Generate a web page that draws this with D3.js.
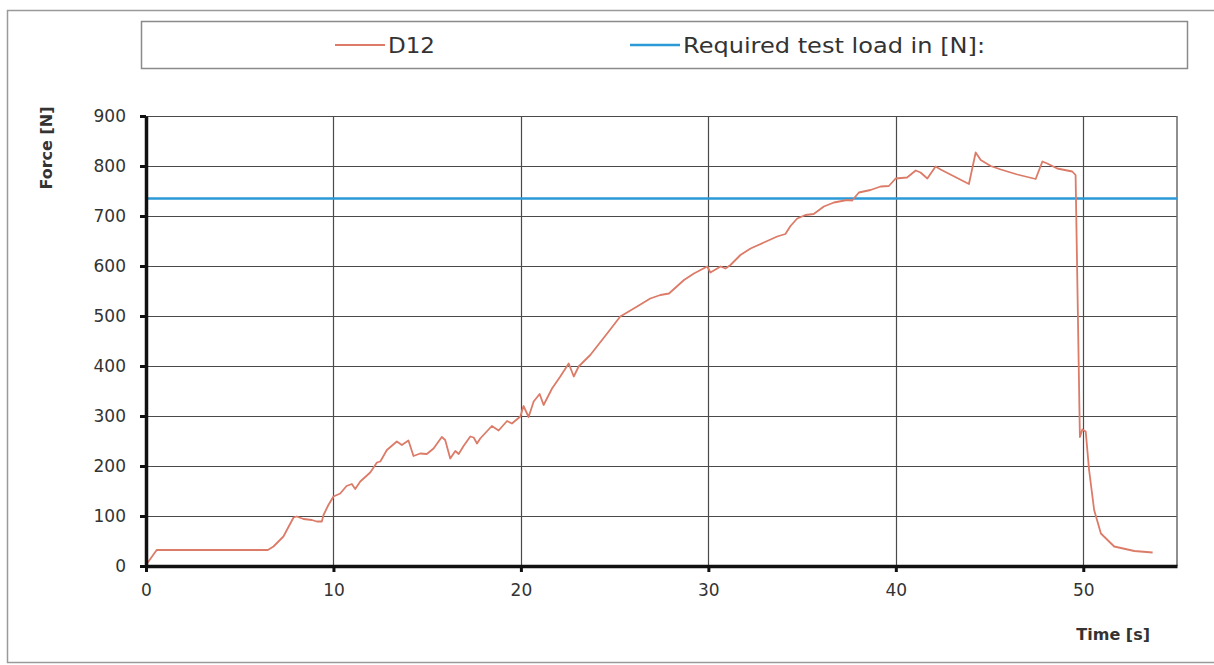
<!DOCTYPE html>
<html>
<head>
<meta charset="utf-8">
<script src="https://cdn.jsdelivr.net/npm/d3@7"></script>
<style>
  html, body { margin: 0; padding: 0; background: #fff; }
  svg { display: block; }
  text { font-family: "DejaVu Sans", Verdana, sans-serif; fill: #333; }
</style>
</head>
<body>
<svg id="chart" width="1214" height="665"></svg>
<script>
// ---- data ----
const seriesNames = ["D12", "Required test load in [N]:"];
const time = [0, 0.57, 6.5, 6.8, 7.33, 7.87, 8.04, 8.4, 8.85, 9.11, 9.38, 9.47, 9.73, 10.0, 10.36, 10.7, 10.98, 11.16, 11.43, 11.96, 12.32, 12.5, 12.85, 13.38, 13.65, 14.0, 14.27, 14.63, 14.98, 15.34, 15.78, 15.96, 16.23, 16.5, 16.68, 16.94, 17.3, 17.48, 17.66, 17.83, 18.45, 18.81, 19.26, 19.52, 19.97, 20.14, 20.41, 20.68, 21.0, 21.21, 21.66, 22.1, 22.55, 22.82, 23.08, 23.7, 24.6, 25.3, 26.2, 26.9, 27.44, 27.9, 28.7, 29.23, 29.94, 30.11, 30.65, 30.91, 31.18, 31.71, 32.25, 32.96, 33.67, 34.11, 34.38, 34.74, 35.18, 35.62, 36.16, 36.7, 37.4, 37.67, 38.03, 38.65, 39.19, 39.63, 39.99, 40.6, 41.06, 41.32, 41.68, 42.12, 42.39, 43.9, 44.26, 44.53, 45.06, 45.6, 46.48, 47.46, 47.82, 48.08, 48.61, 49.41, 49.59, 49.82, 49.95, 50.13, 50.31, 50.58, 50.94, 51.65, 52.72, 53.7];
const force = [2, 32, 32, 39, 59, 97, 99, 94, 92, 89, 89, 102, 122, 139, 145, 160, 164, 154, 169, 187, 207, 209, 232, 249, 242, 251, 220, 225, 224, 235, 258, 252, 215, 230, 224, 240, 259, 257, 245, 255, 280, 271, 290, 285, 299, 320, 298, 329, 344, 322, 355, 379, 405, 379, 399, 422, 465, 499, 519, 535, 542, 545, 572, 585, 599, 587, 599, 595, 602, 622, 635, 647, 659, 664, 680, 695, 702, 704, 719, 727, 732, 731, 747, 752, 759, 760, 775, 777, 791, 787, 775, 799, 793, 764, 827, 812, 800, 793, 783, 774, 809, 805, 795, 789, 782, 258, 273, 269, 192, 112, 65, 39, 30, 27];
const requiredTime = [0, 55];
const requiredLoad = [735, 735];
const xTicks = [0, 10, 20, 30, 40, 50];
const yTicks = [0, 100, 200, 300, 400, 500, 600, 700, 800, 900];
const xTitle = "Time [s]";
const yTitle = "Force [N]";

// ---- drawing ----
const svg = d3.select("#chart");
const colD12 = "#dc7b68";
const colReq = "#2b9ad6";

// outer frame
svg.append("rect").attr("x", 7.5).attr("y", 10.5).attr("width", 1240).attr("height", 652)
  .attr("fill", "#fff").attr("stroke", "#9a9a9a").attr("stroke-width", 1.5);

const x = d3.scaleLinear().domain([0, 55]).range([146, 1177]);
const y = d3.scaleLinear().domain([0, 900]).range([566, 116]);

// legend
const lg = svg.append("g");
lg.append("rect").attr("x", 141.5).attr("y", 21.5).attr("width", 1046).attr("height", 47)
  .attr("fill", "#fff").attr("stroke", "#8a8a8a").attr("stroke-width", 1.5);
const legendItems = [
  { name: seriesNames[0], color: colD12, x0: 335, tw: 47 },
  { name: seriesNames[1], color: colReq, x0: 630, tw: 302 }
];
legendItems.forEach(it => {
  lg.append("line").attr("x1", it.x0).attr("x2", it.x0 + 50).attr("y1", 45).attr("y2", 45)
    .attr("stroke", it.color).attr("stroke-width", it.color === colReq ? 2.5 : 2);
  lg.append("text").attr("x", it.x0 + 53).attr("y", 45).attr("dy", "0.36em")
    .attr("font-size", 21).attr("textLength", it.tw).attr("lengthAdjust", "spacingAndGlyphs")
    .text(it.name);
});

// gridlines
const grid = svg.append("g");
grid.selectAll(".hg").data(yTicks.filter(d => d > 0)).join("line")
  .attr("x1", x(0)).attr("x2", x(55)).attr("y1", d => Math.round(y(d)) + 0.5).attr("y2", d => Math.round(y(d)) + 0.5)
  .attr("stroke", "#4a4a4a").attr("stroke-width", 1.2);
grid.selectAll(".vg").data(xTicks.filter(d => d > 0)).join("line")
  .attr("x1", d => Math.round(x(d)) + 0.5).attr("x2", d => Math.round(x(d)) + 0.5).attr("y1", y(0)).attr("y2", y(900))
  .attr("stroke", "#4a4a4a").attr("stroke-width", 1.2);
// right border of plot area
grid.append("line").attr("x1", x(55)).attr("x2", x(55)).attr("y1", y(0)).attr("y2", y(900))
  .attr("stroke", "#6a6a6a").attr("stroke-width", 1.5);

// series
const line = d3.line().x(d => x(d[0])).y(d => y(d[1]));
svg.append("path").datum(requiredTime.map((t, i) => [t, requiredLoad[i]]))
  .attr("d", line).attr("fill", "none").attr("stroke", colReq).attr("stroke-width", 2.5);
svg.append("path").datum(time.map((t, i) => [t, force[i]]))
  .attr("d", line).attr("fill", "none").attr("stroke", colD12).attr("stroke-width", 1.8)
  .attr("stroke-linejoin", "round");

// axes
const xAxis = svg.append("g").attr("transform", `translate(0,${y(0)})`)
  .call(d3.axisBottom(x).tickValues(xTicks).tickSizeInner(6).tickSizeOuter(0).tickPadding(12));
const yAxis = svg.append("g").attr("transform", `translate(${x(0)},0)`)
  .call(d3.axisLeft(y).tickValues(yTicks).tickSizeInner(6).tickSizeOuter(0).tickPadding(14));
[xAxis, yAxis].forEach(a => {
  a.select(".domain").attr("stroke", "#111").attr("stroke-width", 3.5);
  a.selectAll(".tick line").attr("stroke", "#111").attr("stroke-width", 3);
  a.selectAll(".tick text").attr("font-size", 17).attr("fill", "#333")
    .attr("font-family", "'DejaVu Sans', Verdana, sans-serif");
});

// axis titles
svg.append("text").attr("x", 1150).attr("y", 640).attr("text-anchor", "end")
  .attr("font-size", 16).attr("font-weight", "bold").attr("fill", "#222").text(xTitle);
svg.append("text").attr("transform", "translate(46,148) rotate(-90)").attr("text-anchor", "middle")
  .attr("dy", "0.35em").attr("font-size", 16).attr("font-weight", "bold").attr("fill", "#222").text(yTitle);
</script>
</body>
</html>
